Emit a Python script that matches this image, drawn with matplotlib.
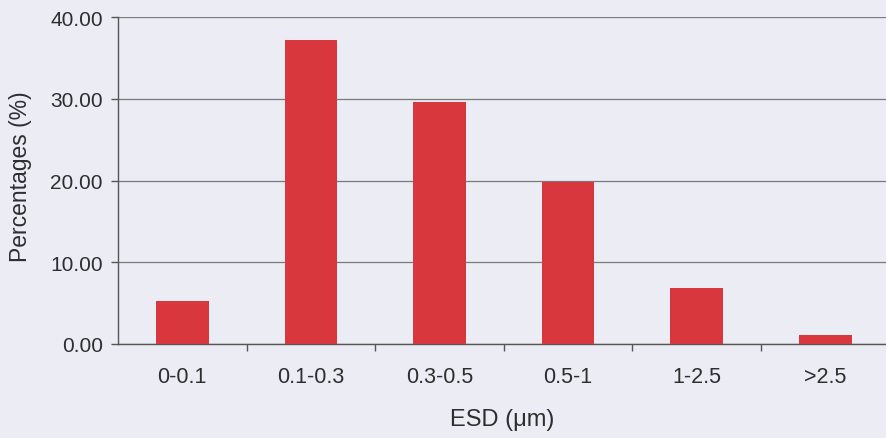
import matplotlib
matplotlib.use("Agg")
import matplotlib.pyplot as plt
import numpy as np

categories = ["0-0.1", "0.1-0.3", "0.3-0.5", "0.5-1", "1-2.5", ">2.5"]
values = [5.2, 37.2, 29.6, 19.8, 6.9, 1.1]
yticks = [0, 10, 20, 30, 40]

plt.rcParams['font.family'] = ['Liberation Sans', 'DejaVu Sans']
bg = '#ececf4'
txt = '#2e2e2e'
fs = 15.5

fig = plt.figure(figsize=(8.87, 4.39), dpi=100, facecolor=bg)
W, H = 887, 439
ax = fig.add_axes([118 / W, 1 - 345 / H, (887 - 118) / W, (345 - 18) / H])
ax.set_facecolor(bg)

x = np.arange(len(categories))
ax.bar(x, values, width=0.41, color='#d8373e', zorder=3)

ax.set_xlim(-0.5, 5.48)
ax.set_ylim(0, 40)
ax.set_yticks(yticks)
ax.set_yticklabels([f"{v:.2f}" for v in yticks], fontsize=15, color=txt)
ax.yaxis.grid(True, color='#7a7a7a', linewidth=0.9, zorder=1)
ax.set_xticks(x)
ax.set_xticklabels(categories, fontsize=fs, color=txt)
ax.tick_params(axis='x', length=0, pad=16)
ax.set_xticks(np.arange(0.5, len(categories) - 0.5, 1), minor=True)
ax.tick_params(axis='x', which='minor', length=5, color='#555555', width=1)
ax.tick_params(axis='y', length=5, color='#555555', width=1, pad=6)

for s in ['top', 'right']:
    ax.spines[s].set_visible(False)
for s in ['left', 'bottom']:
    ax.spines[s].set_color('#555555')
    ax.spines[s].set_linewidth(1)

fig.text(21 / W, 1 - 177 / H, "Percentages (%)", fontsize=16.5, color=txt,
         rotation=90, ha='center', va='center')
fig.text(502 / W, 1 - 420 / H, "ESD (\u03bcm)", fontsize=17, color=txt,
         ha='center', va='center')

fig.savefig("out.png", dpi=100, facecolor=bg)
